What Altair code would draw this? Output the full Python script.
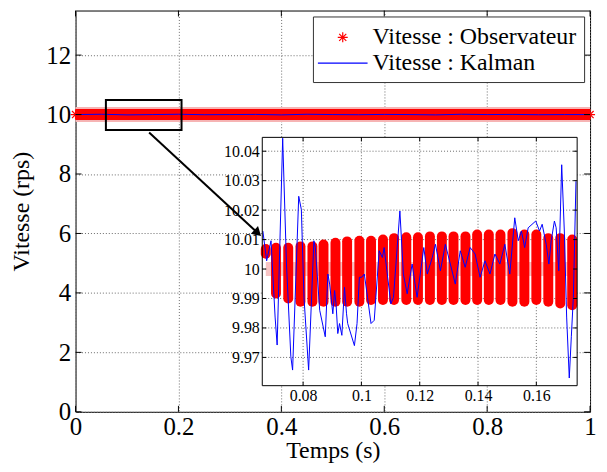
import altair as alt
import pandas as pd

OBS = "Vitesse : Observateur"
KAL = "Vitesse : Kalman"

# ---------------- main view (0 .. 1 s) ----------------
main_obs_t = [0.0, 1.0]
main_obs_v = [10.0, 10.0]
main_kal_t = [0.0, 0.05, 0.10, 0.15, 0.20, 0.25, 0.30, 0.35, 0.40, 0.45, 0.50,
              0.55, 0.60, 0.65, 0.70, 0.75, 0.80, 0.85, 0.90, 0.95, 1.0]
main_kal_v = [10.0, 10.01, 9.99, 10.0, 10.01, 9.995, 10.0, 10.005, 9.99, 10.01, 10.0,
              9.995, 10.005, 10.0, 9.99, 10.01, 10.0, 10.005, 9.995, 10.0, 10.0]
main_x_ticks = [0, 0.2, 0.4, 0.6, 0.8, 1]
main_y_ticks = [0, 2, 4, 6, 8, 10, 12]
MAIN_X = [0.0, 1.0]
MAIN_Y = [0.0, 13.5]

zoom_box_t = [0.059, 0.206]
zoom_box_v = [9.48, 10.49]
arrow_t = [0.143, 0.352]
arrow_v = [9.40, 6.05]

# ---------------- inset (zoom) ----------------
INSET_X = [0.066, 0.174]
INSET_Y = [9.9604, 10.0447]
inset_x_ticks = [0.08, 0.1, 0.12, 0.14, 0.16]
inset_y_ticks = [9.97, 9.98, 9.99, 10, 10.01, 10.02, 10.03, 10.04]

blob_t = [0.0672, 0.0707, 0.0749, 0.0791, 0.0832, 0.0870, 0.0911, 0.0951, 0.0993,
          0.1033, 0.1074, 0.1112, 0.1154, 0.1194, 0.1235, 0.1276, 0.1316, 0.1357,
          0.1397, 0.1437, 0.1477, 0.1518, 0.1559, 0.1600, 0.1641, 0.1682, 0.1723]
blob_hi = [10.0068, 10.0072, 10.0072, 10.0077, 10.0077, 10.0083, 10.0089, 10.0094, 10.0096,
           10.0096, 10.0100, 10.0105, 10.0108, 10.0108, 10.0111, 10.0111, 10.0111, 10.0111,
           10.0117, 10.0117, 10.0117, 10.0122, 10.0117, 10.0117, 10.0105, 10.0105, 10.0100]
blob_lo = [10.0052, 9.9917, 9.9900, 9.9889, 9.9889, 9.9889, 9.9889, 9.9889, 9.9889,
           9.9895, 9.9895, 9.9895, 9.9895, 9.9895, 9.9895, 9.9895, 9.9895, 9.9895,
           9.9895, 9.9895, 9.9895, 9.9889, 9.9889, 9.9895, 9.9889, 9.9883, 9.9877]

kal_t = [0.0662, 0.0675, 0.0690, 0.0704, 0.0711, 0.0730, 0.0743, 0.0758, 0.0764, 0.0785,
         0.0794, 0.0803, 0.0819, 0.0837, 0.0842, 0.0857, 0.0876, 0.0885, 0.0891, 0.0902,
         0.0908, 0.0913, 0.0919, 0.0925, 0.0933, 0.0942, 0.0949, 0.0953, 0.0976, 0.0985,
         0.0993, 0.1001, 0.1010, 0.1021, 0.1033, 0.1044, 0.1061, 0.1072, 0.1078, 0.1101,
         0.1110, 0.1132, 0.1144, 0.1157, 0.1174, 0.1191, 0.1214, 0.1226, 0.1243, 0.1254,
         0.1271, 0.1288, 0.1305, 0.1322, 0.1339, 0.1356, 0.1373, 0.1390, 0.1407, 0.1424,
         0.1441, 0.1458, 0.1475, 0.1492, 0.1509, 0.1526, 0.1538, 0.1549, 0.1560, 0.1572,
         0.1598, 0.1611, 0.1620, 0.1634, 0.1643, 0.1651, 0.1662, 0.1668, 0.1677, 0.1687,
         0.1696, 0.1704, 0.1713, 0.1720, 0.1727, 0.1736]
kal_v = [10.0129, 10.0028, 10.0096, 9.9837, 9.9742, 10.0444, 10.0017, 9.9702, 9.9657, 10.0247,
         10.0202, 9.9904, 9.9657, 10.0096, 10.0073, 9.9860, 9.9770, 9.9983, 9.9949, 9.9848,
         9.9927, 9.9882, 9.9781, 9.9815, 9.9775, 9.9938, 9.9848, 9.9815, 9.9740, 9.9815,
         9.9972, 9.9972, 9.9983, 9.9904, 9.9815, 9.9826, 10.0062, 10.0039, 10.0073, 9.9882,
         9.9904, 10.0197, 9.9983, 9.9916, 10.0017, 9.9904, 10.0073, 9.9983, 10.0039, 10.0084,
         9.9994, 10.0084, 10.0017, 9.9949, 10.0062, 10.0006, 10.0073, 10.0051, 9.9972, 10.0028,
         9.9983, 10.0051, 10.0017, 10.0084, 9.9983, 10.0174, 10.0096, 10.0129, 10.0073, 10.0140,
         10.0163, 10.0129, 10.0152, 10.0084, 10.0017, 10.0096, 10.0163, 10.0140, 9.9994, 10.0354,
         10.0129, 9.9837, 9.9630, 9.9770, 9.9904, 10.0298]

# ---------------- layout / style ----------------
W, H = 518, 404
IX0, IX1 = 188, 505          # inset box, pixels inside plot area
IY0, IY1 = 127.7, 377.7
SERIF = "Liberation Serif"
RED = "#ff0000"
BLUE = "#0000ff"
GRID = "#6a6a6a"
ASTER = "M-0.38,0L0.38,0M0,-0.38L0,0.38M-0.27,-0.27L0.27,0.27M-0.27,0.27L0.27,-0.27"
LEGLINE = "M-1.89,0L1.89,0"

xs = alt.Scale(domain=MAIN_X, nice=False, zero=False)
ys = alt.Scale(domain=MAIN_Y, nice=False, zero=False)


def X(field="t", axis=None):
    if axis is None:
        return alt.X(f"{field}:Q", scale=xs)
    return alt.X(f"{field}:Q", scale=xs, axis=axis)


def Y(field="v", axis=None):
    if axis is None:
        return alt.Y(f"{field}:Q", scale=ys)
    return alt.Y(f"{field}:Q", scale=ys, axis=axis)


df_obs = pd.DataFrame({"t": main_obs_t, "v": main_obs_v, "series": OBS})
df_kal = pd.DataFrame({"t": main_kal_t, "v": main_kal_v, "series": KAL})

x_axis = alt.Axis(values=main_x_ticks, format="~g", title="Temps (s)", grid=True,
                  ticks=False, domain=False, labelFont=SERIF, titleFont=SERIF,
                  labelFontSize=25, titleFontSize=24, titleFontWeight="normal",
                  labelPadding=3, titleBaseline="alphabetic", titleY=46,
                  labelFlush=False, labelColor="black", titleColor="black")
y_axis = alt.Axis(values=main_y_ticks, format="~g", title="Vitesse (rps)", grid=True,
                  ticks=False, domain=False, labelFont=SERIF, titleFont=SERIF,
                  labelFontSize=25, titleFontSize=24, titleFontWeight="normal",
                  labelPadding=5, titlePadding=12, labelFlush=False,
                  labelColor="black", titleColor="black")

leg = alt.Legend(title=None, orient="top-right", offset=6, labelFont=SERIF,
                 labelFontSize=24, labelColor="black", symbolSize=700,
                 symbolStrokeWidth=1.2, symbolOffset=9, labelOffset=16, padding=7,
                 rowPadding=0, strokeColor="#333333", fillColor="white", labelLimit=400)

halo = alt.Chart(df_obs).mark_line(color="#f6b4b4", strokeWidth=15).encode(
    x=X(axis=x_axis), y=Y(axis=y_axis))
band = alt.Chart(df_obs).mark_line(color=RED, strokeWidth=11).encode(x=X(), y=Y())
stars = alt.Chart(df_obs).mark_point(filled=False, size=700, strokeWidth=1.2, opacity=1).encode(
    x=X(), y=Y(),
    color=alt.Color("series:N", scale=alt.Scale(domain=[OBS, KAL], range=[RED, BLUE]), legend=leg),
    shape=alt.Shape("series:N", scale=alt.Scale(domain=[OBS, KAL], range=[ASTER, LEGLINE]), legend=leg),
)
kal_main = alt.Chart(df_kal).mark_line(color=BLUE, strokeWidth=1).encode(x=X(), y=Y())

df_zb = pd.DataFrame({"t": [zoom_box_t[0]], "t2": [zoom_box_t[1]],
                      "v": [zoom_box_v[0]], "v2": [zoom_box_v[1]]})
zbox = alt.Chart(df_zb).mark_rect(fillOpacity=0, stroke="black", strokeWidth=2).encode(
    x=X(), x2="t2:Q", y=Y(), y2="v2:Q")

df_arrow = pd.DataFrame({"t": arrow_t, "v": arrow_v})
arrow = alt.Chart(df_arrow).mark_line(color="black", strokeWidth=2).encode(x=X(), y=Y())
head = alt.Chart(df_arrow.tail(1)).mark_point(shape="triangle", filled=True, color="black",
                                              size=110, angle=133, opacity=1).encode(x=X(), y=Y())

# inward ticks of the main box
dx_m = (MAIN_X[1] - MAIN_X[0]) * 6 / W
dy_m = (MAIN_Y[1] - MAIN_Y[0]) * 6 / H
tick_rows = []
for t in main_x_ticks:
    tick_rows.append({"t": t, "t2": t, "v": MAIN_Y[0], "v2": MAIN_Y[0] + dy_m})
    tick_rows.append({"t": t, "t2": t, "v": MAIN_Y[1] - dy_m, "v2": MAIN_Y[1]})
for v in main_y_ticks:
    tick_rows.append({"t": MAIN_X[0], "t2": MAIN_X[0] + dx_m, "v": v, "v2": v})
    tick_rows.append({"t": MAIN_X[1] - dx_m, "t2": MAIN_X[1], "v": v, "v2": v})
main_ticks = alt.Chart(pd.DataFrame(tick_rows)).mark_rule(color="black", strokeWidth=1).encode(
    x=X(), x2="t2:Q", y=Y(), y2="v2:Q")

main = alt.layer(halo, band, stars, kal_main, zbox, arrow, head, main_ticks)

# ---------------- inset layers ----------------
ixs = alt.Scale(domain=INSET_X, range=[IX0, IX1], nice=False, zero=False)
iys = alt.Scale(domain=INSET_Y, range=[IY1, IY0], nice=False, zero=False)


def IXc(field="t", axis=None):
    if axis is None:
        return alt.X(f"{field}:Q", scale=ixs)
    return alt.X(f"{field}:Q", scale=ixs, axis=axis)


def IYc(field="v", axis=None):
    if axis is None:
        return alt.Y(f"{field}:Q", scale=iys)
    return alt.Y(f"{field}:Q", scale=iys, axis=axis)


ix_axis = alt.Axis(orient="bottom", offset=-(H - IY1), values=inset_x_ticks, format="~g",
                   grid=False, ticks=False, domain=False, labelFont=SERIF, labelFontSize=16,
                   labelPadding=2, title=None, labelFlush=False, labelColor="black")
iy_axis = alt.Axis(orient="left", offset=-IX0, values=inset_y_ticks, format="~g",
                   grid=False, ticks=False, domain=False, labelFont=SERIF, labelFontSize=16,
                   labelPadding=3, title=None, labelFlush=False, labelColor="black")

df_ibox = pd.DataFrame({"t": [INSET_X[0]], "t2": [INSET_X[1]],
                        "v": [INSET_Y[0]], "v2": [INSET_Y[1]]})
ibg = alt.Chart(df_ibox).mark_rect(fill="white").encode(
    x=IXc(axis=ix_axis), x2="t2:Q", y=IYc(axis=iy_axis), y2="v2:Q")

grid_rows = []
for t in inset_x_ticks:
    grid_rows.append({"t": t, "t2": t, "v": INSET_Y[0], "v2": INSET_Y[1]})
for v in inset_y_ticks:
    grid_rows.append({"t": INSET_X[0], "t2": INSET_X[1], "v": v, "v2": v})
igrid = alt.Chart(pd.DataFrame(grid_rows)).mark_rule(color=GRID, strokeWidth=1,
                                                    strokeDash=[1, 2]).encode(
    x=IXc(), x2="t2:Q", y=IYc(), y2="v2:Q")

df_pale = pd.DataFrame({"t": [blob_t[0], blob_t[-1]], "v": [10.0, 10.0]})
ipale = alt.Chart(df_pale).mark_line(color="#f7c4c4", strokeWidth=14).encode(x=IXc(), y=IYc())

df_blob = pd.DataFrame({"t": blob_t, "v": blob_hi, "v2": blob_lo})
iblob = alt.Chart(df_blob).mark_rule(color=RED, strokeWidth=10, strokeCap="round").encode(
    x=IXc(), y=IYc(), y2="v2:Q")

df_ikal = pd.DataFrame({"t": kal_t, "v": kal_v})
ikal = alt.Chart(df_ikal).mark_line(color=BLUE, strokeWidth=1).encode(x=IXc(), y=IYc())

dx_i = (INSET_X[1] - INSET_X[0]) * 4 / (IX1 - IX0)
dy_i = (INSET_Y[1] - INSET_Y[0]) * 4 / (IY1 - IY0)
itick_rows = []
for t in inset_x_ticks:
    itick_rows.append({"t": t, "t2": t, "v": INSET_Y[0], "v2": INSET_Y[0] + dy_i})
    itick_rows.append({"t": t, "t2": t, "v": INSET_Y[1] - dy_i, "v2": INSET_Y[1]})
for v in inset_y_ticks:
    itick_rows.append({"t": INSET_X[0], "t2": INSET_X[0] + dx_i, "v": v, "v2": v})
    itick_rows.append({"t": INSET_X[1] - dx_i, "t2": INSET_X[1], "v": v, "v2": v})
iticks = alt.Chart(pd.DataFrame(itick_rows)).mark_rule(color="black", strokeWidth=1).encode(
    x=IXc(), x2="t2:Q", y=IYc(), y2="v2:Q")

iframe = alt.Chart(df_ibox).mark_rect(fillOpacity=0, stroke="black", strokeWidth=1).encode(
    x=IXc(), x2="t2:Q", y=IYc(), y2="v2:Q")

inset = alt.layer(ibg, igrid, ipale, iblob, ikal, iticks, iframe)

chart = (
    alt.layer(main, inset)
    .resolve_scale(x="independent", y="independent")
    .properties(width=W, height=H,
                padding={"left": 68, "top": 1, "right": 9, "bottom": 51},
                autosize=alt.AutoSizeParams(type="none"))
    .configure(font=SERIF)
    .configure_view(stroke="black", strokeWidth=1)
    .configure_axis(labelFont=SERIF, titleFont=SERIF, labelColor="black", titleColor="black",
                    titleFontWeight="normal", gridColor=GRID, gridDash=[1, 2], gridWidth=1,
                    gridOpacity=1)
    .configure_legend(labelFont=SERIF)
)

chart.save("out.html", embed_options={"renderer": "svg", "actions": False})
